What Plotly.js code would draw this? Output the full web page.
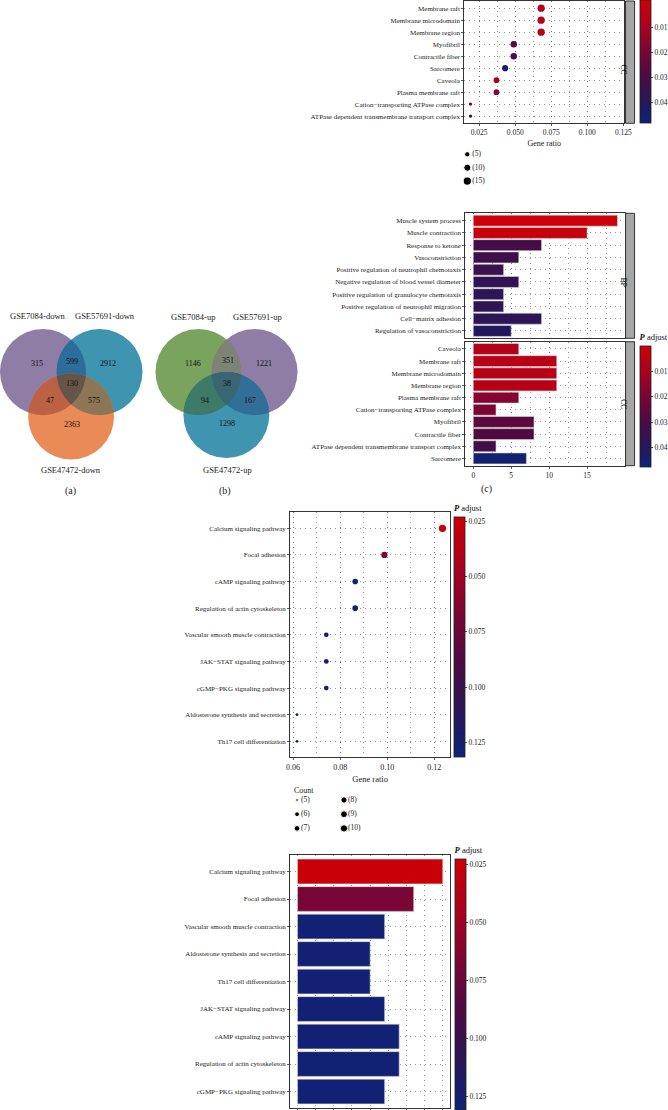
<!DOCTYPE html>
<html><head><meta charset="utf-8">
<script src="https://cdn.plot.ly/plotly-3.0.1.min.js"></script>
<style>html,body{margin:0;padding:0;background:#fff;}#chart{width:668px;height:1110px;}</style>
</head><body><div id="chart"></div>
<script>
// ================= DATA =================
// Panel top: GO CC dot plot
const ccDotTerms = ['Membrane raft','Membrane microdomain','Membrane region','Myofibril','Contractile fiber','Sarcomere','Caveola','Plasma membrane raft','Cation\u2212transporting ATPase complex','ATPase dependent transmembrane transport complex'];
const ccDotRatio = [0.068,0.068,0.068,0.049,0.049,0.043,0.037,0.037,0.019,0.019];
const ccDotCount = [11,11,11,8,8,7,6,6,3,3];
const ccDotPadj  = [0.006,0.006,0.006,0.026,0.028,0.046,0.008,0.017,0.019,0.031];
const ccDotTickVals = [0.025,0.05,0.075,0.1,0.125];
const ccDotTickText = ['0.025','0.050','0.075','0.100','0.125'];
const ccSizeLegend = [5,10,15];

// Panel (c): GO bar chart, BP facet and CC facet
const bpTerms = ['Muscle system process','Muscle contraction','Response to ketone','Vasoconstriction','Positive regulation of neutrophil chemotaxis','Negative regulation of blood vessel diameter','Positive regulation of granulocyte chemotaxis','Positive regulation of neutrophil migration','Cell\u2212matrix adhesion','Regulation of vasoconstriction'];
const bpCount = [19,15,9,6,4,6,4,4,9,5];
const bpPadj  = [0.0005,0.002,0.031,0.033,0.034,0.036,0.037,0.037,0.038,0.040];
const ccBarTerms = ['Caveola','Membrane raft','Membrane microdomain','Membrane region','Plasma membrane raft','Cation\u2212transporting ATPase complex','Myofibril','Contractile fiber','ATPase dependent transmembrane transport complex','Sarcomere'];
const ccBarCount = [6,11,11,11,6,3,8,8,3,7];
const ccBarPadj  = [0.008,0.006,0.006,0.006,0.017,0.019,0.026,0.028,0.031,0.046];
const goPadjTicks = [0.01,0.02,0.03,0.04];
const goCountTicks = [0,5,10,15];

// KEGG dot plot
const keggDotTerms = ['Calcium signaling pathway','Focal adhesion','cAMP signaling pathway','Regulation of actin cytoskeleton','Vascular smooth muscle contraction','JAK\u2212STAT signaling pathway','cGMP\u2212PKG signaling pathway','Aldosterone synthesis and secretion','Th17 cell differentiation'];
const keggDotRatio = [0.1235,0.0988,0.0864,0.0864,0.0741,0.0741,0.0741,0.0617,0.0617];
const keggDotCount = [10,8,7,7,6,6,6,5,5];
const keggDotPadj  = [0.024,0.068,0.128,0.128,0.128,0.128,0.128,0.128,0.128];
const keggRatioTicks = [0.06,0.08,0.10,0.12];
const keggRatioText = ['0.06','0.08','0.10','0.12'];
const keggPadjTicks = [0.025,0.05,0.075,0.1,0.125];
const keggPadjText = ['0.025','0.050','0.075','0.100','0.125'];
const keggCountLegend = [5,6,7,8,9,10];

// KEGG bar chart
const keggBarTerms = ['Calcium signaling pathway','Focal adhesion','Vascular smooth muscle contraction','Aldosterone synthesis and secretion','Th17 cell differentiation','JAK\u2212STAT signaling pathway','cAMP signaling pathway','Regulation of actin cytoskeleton','cGMP\u2212PKG signaling pathway'];
const keggBarCount = [10,8,6,5,5,6,7,7,6];
const keggBarPadj  = [0.024,0.068,0.128,0.128,0.128,0.128,0.128,0.128,0.128];

// Venn diagrams (region counts)
const vennANames = ['GSE7084-down','GSE57691-down','GSE47472-down'];
const vennACounts = [315,599,2912,130,47,575,2363];
const vennBNames = ['GSE7084-up','GSE57691-up','GSE47472-up'];
const vennBCounts = [1146,351,1221,38,94,167,1298];

// ================= LAYOUT HELPERS =================
const W=668,H=1110;
const fx = p => p/W, fy = p => 1 - p/H;
const serif = '"Liberation Serif", "Times New Roman", serif';
const tickFont = {family:serif,size:7,color:'#222'};
// low p (red) drawn at the top of each colour bar: colour by -p
const cstops = [[0,'#cc0008'],[0.2,'#ab021e'],[0.4,'#7c0633'],[0.6,'#4e0a42'],[0.8,'#2a1656'],[0.9,'#1b1c66'],[1,'#0e2378']];
const cscale = cstops.map(([v,c])=>[1-v,c]).reverse();
const neg = a => a.map(v=>-v);
const dash = '1px,4px';
const axBase = {showgrid:true,gridcolor:'#666',griddash:dash,gridwidth:0.7,showline:true,mirror:true,linecolor:'#333',linewidth:1,
  ticks:'outside',ticklen:2,tickcolor:'#333',tickwidth:0.8,tickfont:tickFont,zeroline:false,automargin:false,fixedrange:true};
function minorGrid(d){return {dtick:d,showgrid:true,gridcolor:'#666',griddash:dash,gridwidth:0.7,ticks:''};}
function catAxis(terms, top, bot, anchor){
  return Object.assign({},axBase,{type:'category',categoryorder:'array',categoryarray:terms,range:[terms.length-0.4,-0.6],
    domain:[fy(bot),fy(top)],anchor:anchor});
}
function cbar(xpx, topPx, botPx, vals, text, title){
  const o = {x:fx(xpx),xanchor:'left',y:fy(topPx),yanchor:'top',len:botPx-topPx,lenmode:'pixels',thickness:10.5,thicknessmode:'pixels',
    xpad:0,ypad:0,outlinewidth:0.8,outlinecolor:'#222',ticks:'outside',ticklen:2,tickwidth:0.8,tickcolor:'#222',
    tickvals:neg(vals),ticktext:text,tickfont:{family:serif,size:7.5,color:'#222'}};
  if(title) o.title = {text:title,side:'top',font:{family:serif,size:8.5,color:'#111'}};
  return o;
}
function caxis(pmin,pmax,bar){return {colorscale:cscale,cmin:-pmax,cmax:-pmin,colorbar:bar};}
const topSize = c => 3.3 + 5.66*Math.sqrt((c-3)/16);
const keggSize = c => 2.7 + 4.6*Math.sqrt((c-5)/5);

// ================= TRACES =================
const traces = [];
traces.push({type:'scatter',mode:'markers',x:ccDotRatio,y:ccDotTerms,xaxis:'x',yaxis:'y',
  marker:{size:ccDotCount.map(topSize),color:neg(ccDotPadj),coloraxis:'coloraxis',opacity:1,line:{width:0}},hoverinfo:'skip'});
traces.push({type:'bar',orientation:'h',x:bpCount,y:bpTerms,xaxis:'x2',yaxis:'y2',
  marker:{color:neg(bpPadj),coloraxis:'coloraxis2',line:{color:'#d9d9d9',width:0.6}},hoverinfo:'skip'});
traces.push({type:'bar',orientation:'h',x:ccBarCount,y:ccBarTerms,xaxis:'x3',yaxis:'y3',
  marker:{color:neg(ccBarPadj),coloraxis:'coloraxis2',line:{color:'#d9d9d9',width:0.6}},hoverinfo:'skip'});
traces.push({type:'scatter',mode:'markers',x:keggDotRatio,y:keggDotTerms,xaxis:'x4',yaxis:'y4',
  marker:{size:keggDotCount.map(keggSize),color:neg(keggDotPadj),coloraxis:'coloraxis3',opacity:1,line:{width:0}},hoverinfo:'skip'});
traces.push({type:'bar',orientation:'h',x:keggBarCount,y:keggBarTerms,xaxis:'x5',yaxis:'y5',
  marker:{color:neg(keggBarPadj),coloraxis:'coloraxis4',line:{color:'#d9d9d9',width:0.6}},hoverinfo:'skip'});

// size legends (drawn on the pixel overlay axis x6/y6)
const legTop = {x:468, y:154.3, step:13.4};
traces.push({type:'scatter',mode:'markers',xaxis:'x6',yaxis:'y6',hoverinfo:'skip',
  x:ccSizeLegend.map(()=>legTop.x), y:ccSizeLegend.map((c,i)=>legTop.y+i*legTop.step),
  marker:{size:ccSizeLegend.map(topSize),color:'#000',opacity:1}});
traces.push({type:'scatter',mode:'text',xaxis:'x6',yaxis:'y6',hoverinfo:'skip',
  x:ccSizeLegend.map(()=>legTop.x+5), y:ccSizeLegend.map((c,i)=>legTop.y+i*legTop.step),
  text:ccSizeLegend.map(c=>'('+c+')'),textposition:'middle right',textfont:{family:serif,size:7.5,color:'#222'}});
const legK = {x:297.5, y:800, step:14.2, colStep:47};
const kx = keggCountLegend.map((c,i)=>legK.x+Math.floor(i/3)*legK.colStep);
const ky = keggCountLegend.map((c,i)=>legK.y+(i%3)*legK.step);
traces.push({type:'scatter',mode:'markers',xaxis:'x6',yaxis:'y6',hoverinfo:'skip',x:kx,y:ky,
  marker:{size:keggCountLegend.map(keggSize),color:'#000',opacity:1}});
traces.push({type:'scatter',mode:'text',xaxis:'x6',yaxis:'y6',hoverinfo:'skip',x:kx.map(v=>v+4),y:ky,
  text:keggCountLegend.map(c=>'('+c+')'),textposition:'middle right',textfont:{family:serif,size:7.5,color:'#222'}});

// ================= VENN GEOMETRY =================
const vennA = {circles:[{x:43,y:372,r:43},{x:99.7,y:372,r:43},{x:71.2,y:416.5,r:43}],
  only:['#8e7ea6','#3f94b0','#ea8a57'], pair:{'01':'#2d6d9a','02':'#bd6146','12':'#8c7655'}, triple:'#655549',
  labelPos:[[37.3,363.3],[72.3,361],[108.3,363.3],[72.3,383.3],[50,400.7],[94.3,400.7],[72.3,424.7]],
  namePos:[[38,316],[105,316],[71,470]], panel:['(a)',71,491]};
const vennB = {circles:[{x:198.7,y:372,r:43},{x:255,y:372,r:43},{x:226.7,y:415,r:43}],
  only:['#7aa35e','#8e7ea6','#3f94b0'], pair:{'01':'#7e8377','02':'#3d7a68','12':'#316f99'}, triple:'#3a6673',
  labelPos:[[193.3,363.3],[228.3,360.7],[264.3,363.3],[227.7,383.3],[205,400.7],[250,400.7],[227.7,423.3]],
  namePos:[[193,316.7],[258,316.7],[228,470]], panel:['(b)',225,491]};

function inside(p,c){return (p[0]-c.x)**2+(p[1]-c.y)**2 <= c.r*c.r+1e-6;}
function interPath(cs){
  const pts=[];
  cs.forEach((c,i)=>{for(let k=0;k<720;k++){const t=2*Math.PI*k/720;const p=[c.x+c.r*Math.cos(t),c.y+c.r*Math.sin(t)];
    if(cs.every((o,j)=>j===i||inside(p,o))) pts.push(p);}});
  const mx=pts.reduce((s,p)=>s+p[0],0)/pts.length, my=pts.reduce((s,p)=>s+p[1],0)/pts.length;
  pts.sort((a,b)=>Math.atan2(a[1]-my,a[0]-mx)-Math.atan2(b[1]-my,b[0]-mx));
  return 'M'+pts.map(p=>p[0].toFixed(2)+','+p[1].toFixed(2)).join('L')+'Z';
}
const shapes=[], annotations=[];
function drawVenn(v, names, counts){
  v.circles.forEach((c,i)=>shapes.push({type:'circle',xref:'x6',yref:'y6',x0:c.x-c.r,x1:c.x+c.r,y0:c.y-c.r,y1:c.y+c.r,
    fillcolor:v.only[i],line:{width:0},layer:'above'}));
  [['01',0,1],['02',0,2],['12',1,2]].forEach(([k,a,b])=>shapes.push({type:'path',xref:'x6',yref:'y6',
    path:interPath([v.circles[a],v.circles[b]]),fillcolor:v.pair[k],line:{width:0},layer:'above'}));
  shapes.push({type:'path',xref:'x6',yref:'y6',path:interPath(v.circles),fillcolor:v.triple,line:{width:0},layer:'above'});
  counts.forEach((n,i)=>annotations.push({xref:'x6',yref:'y6',x:v.labelPos[i][0],y:v.labelPos[i][1],text:String(n),showarrow:false,
    font:{family:serif,size:8,color:'#111'}}));
  names.forEach((n,i)=>annotations.push({xref:'x6',yref:'y6',x:v.namePos[i][0],y:v.namePos[i][1],text:n,showarrow:false,
    font:{family:serif,size:8.5,color:'#222'}}));
  annotations.push({xref:'x6',yref:'y6',x:v.panel[1],y:v.panel[2],text:v.panel[0],showarrow:false,font:{family:serif,size:10,color:'#222'}});
}
drawVenn(vennA, vennANames, vennACounts);
drawVenn(vennB, vennBNames, vennBCounts);
annotations.push({xref:'x6',yref:'y6',x:487.3,y:489.3,text:'(c)',showarrow:false,font:{family:serif,size:10,color:'#222'}});
annotations.push({xref:'x6',yref:'y6',x:292,y:790.7,xanchor:'left',text:'Count',showarrow:false,font:{family:serif,size:8,color:'#222'}});

// facet strips
function strip(x0,x1,top,bot,label){
  shapes.push({type:'rect',xref:'paper',yref:'paper',x0:fx(x0),x1:fx(x1),y0:fy(bot),y1:fy(top),fillcolor:'#a6a6a6',line:{color:'#333',width:1}});
  annotations.push({xref:'paper',yref:'paper',x:fx((x0+x1)/2),y:fy((top+bot)/2),text:label,textangle:90,showarrow:false,
    font:{family:serif,size:7.5,color:'#000'}});
}
strip(626.5,635.5,1,123.3,'CC');
strip(626.5,635.5,213.3,338.3,'BP');
strip(626.5,635.5,341.7,465.7,'CC');

// ================= AXES =================
const pTitle = '<b><i>P</i></b> adjust';
const layout = {
  width:W,height:H,margin:{l:0,r:0,t:0,b:0,pad:0},paper_bgcolor:'#fff',plot_bgcolor:'rgba(0,0,0,0)',
  showlegend:false,bargap:0.1,font:{family:serif,size:7,color:'#222'},
  xaxis:Object.assign({},axBase,{domain:[fx(465),fx(625)],anchor:'y',range:[0.0147,0.1255],tickvals:ccDotTickVals,ticktext:ccDotTickText,
    minor:minorGrid(0.0125),tickfont:{family:serif,size:7.5,color:'#222'},title:{text:'Gene ratio',font:{family:serif,size:8,color:'#222'},standoff:4}}),
  yaxis:catAxis(ccDotTerms,1,123.3,'x'),
  xaxis2:Object.assign({},axBase,{domain:[fx(466),fx(626)],anchor:'y2',range:[-1.05,20],tickvals:goCountTicks,showticklabels:false,ticks:'',
    minor:minorGrid(2.5)}),
  yaxis2:catAxis(bpTerms,213.3,338.3,'x2'),
  xaxis3:Object.assign({},axBase,{domain:[fx(466),fx(626)],anchor:'y3',range:[-1.05,20],tickvals:goCountTicks,
    minor:minorGrid(2.5),tickfont:{family:serif,size:7.5,color:'#222'}}),
  yaxis3:catAxis(ccBarTerms,341.7,465.7,'x3'),
  xaxis4:Object.assign({},axBase,{domain:[fx(290.7),fx(450.7)],anchor:'y4',range:[0.0588,0.1267],tickvals:keggRatioTicks,ticktext:keggRatioText,
    minor:minorGrid(0.01),tickfont:{family:serif,size:8,color:'#222'},title:{text:'Gene ratio',font:{family:serif,size:8.5,color:'#222'},standoff:5}}),
  yaxis4:catAxis(keggDotTerms,512.3,757.3,'x4'),
  xaxis5:Object.assign({},axBase,{domain:[fx(290.7),fx(450.7)],anchor:'y5',range:[-0.5,10.5],dtick:2.5,showticklabels:false,
    minor:Object.assign(minorGrid(1.25),{ticks:'outside',ticklen:2,tickcolor:'#333'})}),
  yaxis5:catAxis(keggBarTerms,855,1108,'x5'),
  xaxis6:{domain:[0,1],range:[0,W],visible:false,fixedrange:true,anchor:'y6'},
  yaxis6:{domain:[0,1],range:[H,0],visible:false,fixedrange:true,anchor:'x6'},
  coloraxis:caxis(-0.0008,0.0484,cbar(640,0,123,goPadjTicks,goPadjTicks.map(String))),
  coloraxis2:caxis(0.0001,0.0476,cbar(640,331,466.7,goPadjTicks,goPadjTicks.map(String),pTitle)),
  coloraxis3:caxis(0.023,0.1317,cbar(454.3,502,756.7,keggPadjTicks,keggPadjText,pTitle)),
  coloraxis4:caxis(0.0227,0.131,cbar(455,844,1110,keggPadjTicks,keggPadjText,pTitle)),
  shapes:shapes, annotations:annotations
};
Plotly.newPlot('chart',traces,layout,{staticPlot:true,displayModeBar:false});
</script></body></html>
